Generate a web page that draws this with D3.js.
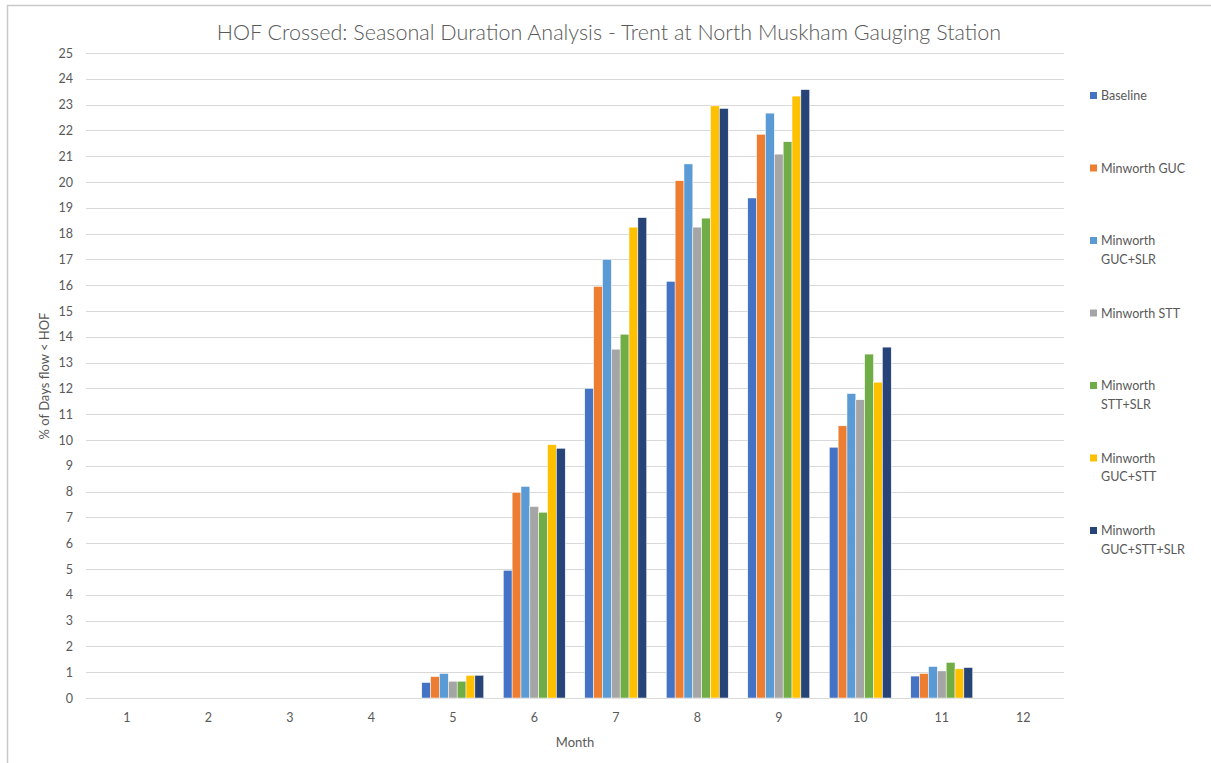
<!DOCTYPE html>
<html>
<head>
<meta charset="utf-8">
<script src="https://cdn.jsdelivr.net/npm/d3@7"></script>
<style>
  body { margin: 0; background: #fff; }
  text { font-family: Lato, "Open Sans", sans-serif; fill: #595959; }
</style>
</head>
<body>
<div id="chart"></div>
<script>
// months on the x axis
const months = ["1", "2", "3", "4", "5", "6", "7", "8", "9", "10", "11", "12"];

// scenario names (legend lines split where the original wraps)
const seriesNames = ["Baseline", "Minworth GUC", "Minworth GUC+SLR", "Minworth STT",
                     "Minworth STT+SLR", "Minworth GUC+STT", "Minworth GUC+STT+SLR"];
const legendLines = [["Baseline"], ["Minworth GUC"], ["Minworth", "GUC+SLR"], ["Minworth STT"],
                     ["Minworth", "STT+SLR"], ["Minworth", "GUC+STT"], ["Minworth", "GUC+STT+SLR"]];

// % of days flow < HOF, one array per scenario, months 1..12
const baseline      = [0, 0, 0, 0, 0.6,  4.95, 12.0,  16.15, 19.38, 9.72,  0.85, 0];
const gucVals       = [0, 0, 0, 0, 0.83, 7.97, 15.95, 20.05, 21.85, 10.55, 0.95, 0];
const gucSlrVals    = [0, 0, 0, 0, 0.95, 8.2,  17.0,  20.7,  22.67, 11.8,  1.22, 0];
const sttVals       = [0, 0, 0, 0, 0.65, 7.42, 13.52, 18.25, 21.08, 11.56, 1.05, 0];
const sttSlrVals    = [0, 0, 0, 0, 0.65, 7.2,  14.1,  18.6,  21.56, 13.33, 1.38, 0];
const gucSttVals    = [0, 0, 0, 0, 0.88, 9.82, 18.25, 22.95, 23.33, 12.24, 1.13, 0];
const gucSttSlrVals = [0, 0, 0, 0, 0.88, 9.68, 18.62, 22.85, 23.58, 13.6,  1.18, 0];

const seriesValues = [baseline, gucVals, gucSlrVals, sttVals, sttSlrVals, gucSttVals, gucSttSlrVals];

const yTicks = d3.range(0, 26, 1);

const colours = ["#4472C4", "#ED7D31", "#5B9BD5", "#A5A5A5", "#70AD47", "#FFC000", "#264478"];

const width = 1211, height = 763;
const margin = { left: 86, right: 147, top: 53, bottom: 65 };

const svg = d3.select("#chart").append("svg")
  .attr("width", width)
  .attr("height", height);

// outer chart border (only left and top visible in the crop)
svg.append("rect")
  .attr("x", 7.5).attr("y", 5.5)
  .attr("width", 1300).attr("height", 900)
  .attr("fill", "none")
  .attr("stroke", "#c9c9c9")
  .attr("stroke-width", 1.5);

const x = d3.scaleBand()
  .domain(months)
  .range([margin.left, width - margin.right])
  .paddingInner(0.24)
  .paddingOuter(0.12);

const xInner = d3.scaleBand()
  .domain(d3.range(seriesNames.length))
  .range([0, x.bandwidth()]);

const y = d3.scaleLinear()
  .domain([0, 25])
  .range([height - margin.bottom, margin.top]);

// gridlines
svg.append("g")
  .selectAll("line")
  .data(yTicks)
  .join("line")
  .attr("x1", margin.left)
  .attr("x2", width - margin.right)
  .attr("y1", d => Math.round(y(d)) + 0.5)
  .attr("y2", d => Math.round(y(d)) + 0.5)
  .attr("stroke", "#d9d9d9")
  .attr("stroke-width", 1);

// y tick labels
svg.append("g")
  .selectAll("text")
  .data(yTicks)
  .join("text")
  .attr("x", 73)
  .attr("y", d => y(d) + 4.5)
  .attr("text-anchor", "end")
  .attr("font-size", "12.5px")
  .text(d => d);

// x tick labels
svg.append("g")
  .selectAll("text")
  .data(months)
  .join("text")
  .attr("x", d => x(d) + x.bandwidth() / 2)
  .attr("y", 722)
  .attr("text-anchor", "middle")
  .attr("font-size", "12.5px")
  .text(d => d);

// bars
const groups = svg.append("g")
  .selectAll("g")
  .data(months)
  .join("g")
  .attr("transform", d => `translate(${x(d)},0)`);

groups.selectAll("rect")
  .data((m, mi) => seriesValues.map((vals, si) => ({ si, v: vals[mi] })))
  .join("rect")
  .attr("x", d => xInner(d.si))
  .attr("width", xInner.bandwidth())
  .attr("y", d => y(d.v))
  .attr("height", d => y(0) - y(d.v))
  .attr("fill", d => colours[d.si])
  .attr("stroke", "#ffffff")
  .attr("stroke-width", 0.5);

// title
svg.append("text")
  .attr("x", 609)
  .attr("y", 40)
  .attr("text-anchor", "middle")
  .attr("font-size", "21.5px")
  .attr("font-weight", 300)
  .text("HOF Crossed: Seasonal Duration Analysis - Trent at North Muskham Gauging Station");

// axis titles
svg.append("text")
  .attr("x", 575)
  .attr("y", 747)
  .attr("text-anchor", "middle")
  .attr("font-size", "13px")
  .text("Month");

svg.append("text")
  .attr("transform", "translate(49,376) rotate(-90)")
  .attr("text-anchor", "middle")
  .attr("font-size", "13px")
  .text("% of Days flow < HOF");

// legend
const legend = svg.append("g");
const legendItem = legend.selectAll("g")
  .data(legendLines)
  .join("g")
  .attr("transform", (d, i) => `translate(1090,${96 + i * 72.5})`);

legendItem.append("rect")
  .attr("x", 0)
  .attr("y", -4)
  .attr("width", 7)
  .attr("height", 7)
  .attr("fill", (d, i) => colours[i]);

legendItem.append("text")
  .attr("x", 11)
  .attr("y", 4)
  .attr("font-size", "12.5px")
  .selectAll("tspan")
  .data(d => d)
  .join("tspan")
  .attr("x", 11)
  .attr("dy", (d, i) => i === 0 ? 0 : 18.5)
  .text(d => d);
</script>
</body>
</html>
